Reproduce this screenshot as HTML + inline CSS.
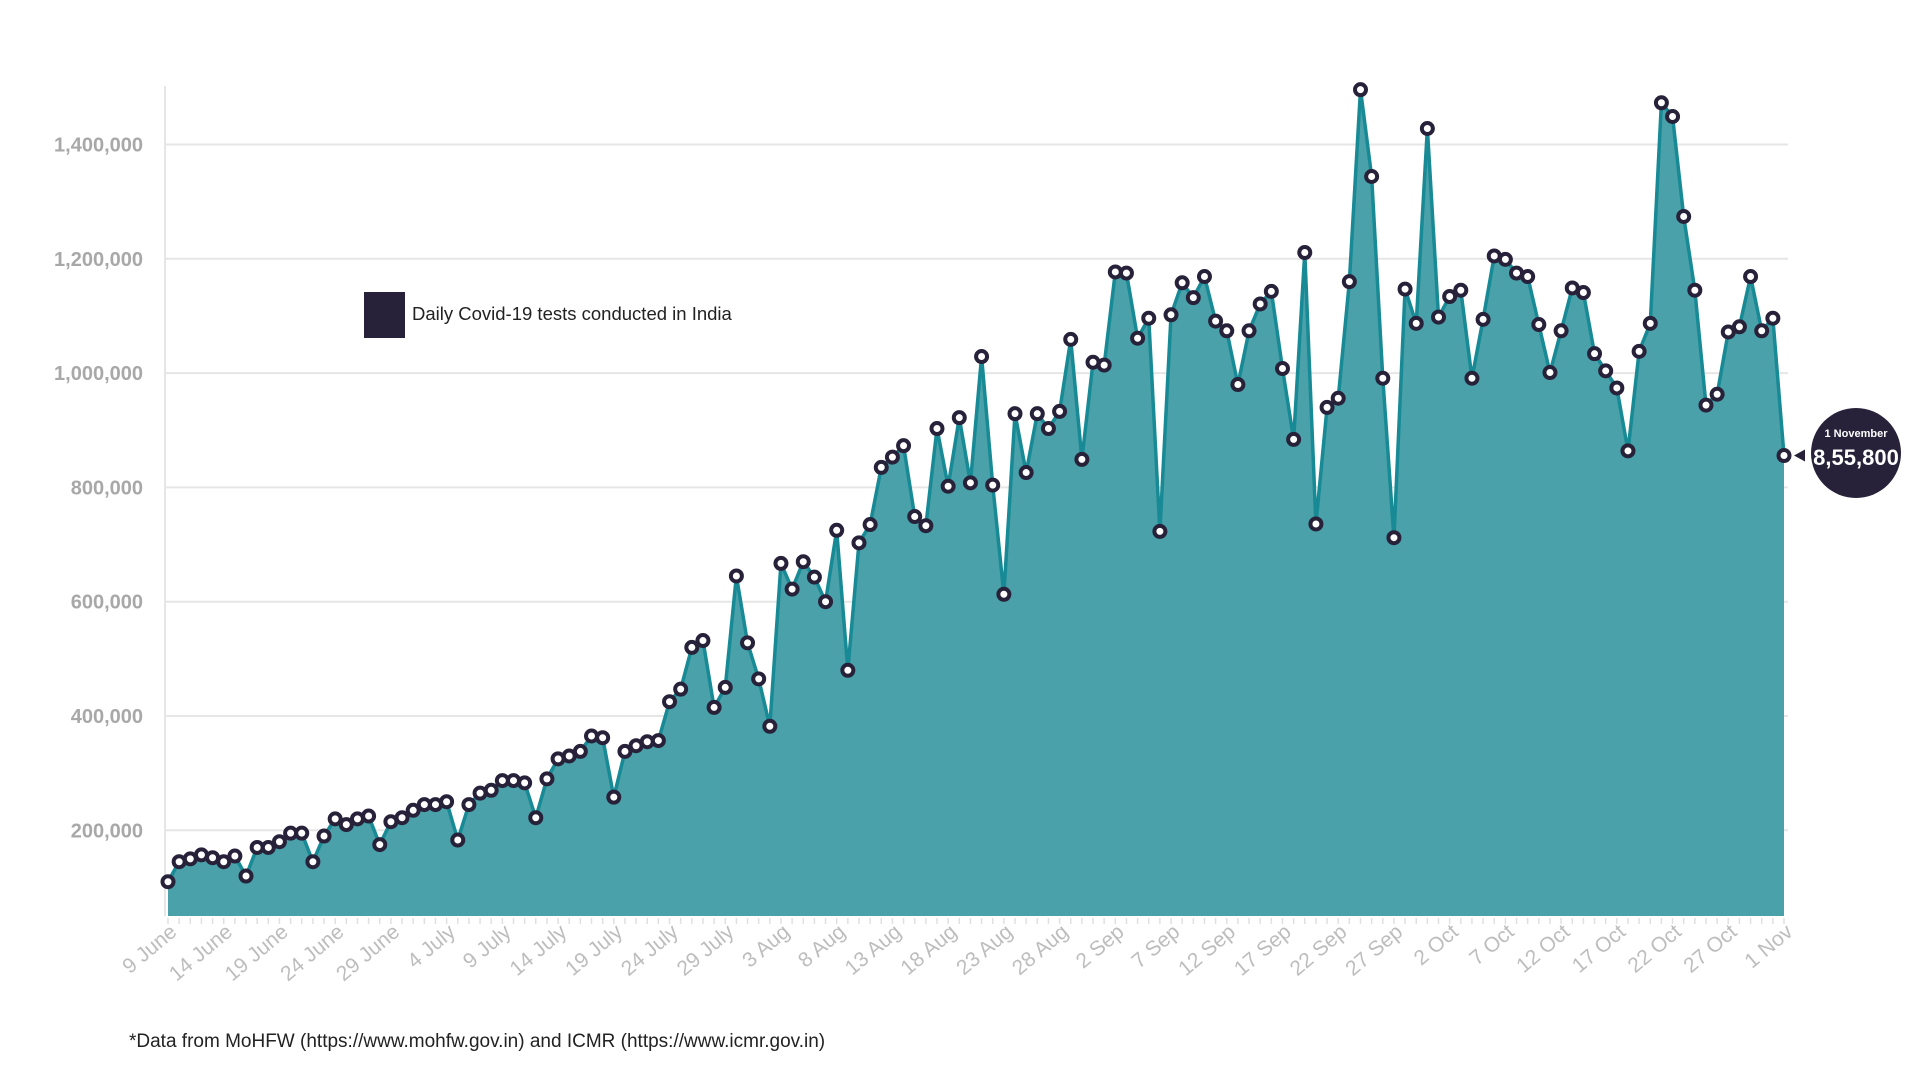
<!DOCTYPE html>
<html><head><meta charset="utf-8"><style>
body{margin:0;background:#fff;width:1920px;height:1080px;overflow:hidden;font-family:"Liberation Sans",sans-serif}
svg{position:absolute;left:0;top:0}
</style></head><body>
<svg id="chart" width="1920" height="1080" xmlns="http://www.w3.org/2000/svg"></svg>
<script>
const values=[110,145,150,157,152,145,155,120,170,170,
180,195,195,145,190,220,210,220,225,175,
215,222,235,245,245,250,183,245,265,270,
287,287,283,222,290,325,330,338,365,362,
258,338,348,355,357,425,447,520,532,415,
450,645,528,465,382,667,622,670,643,600,
725,480,703,735,835,853,873,749,733,903,
802,922,808,1029,804,613,929,826,929,903,
933,1059,849,1019,1014,1177,1175,1061,1096,723,
1102,1158,1132,1169,1091,1074,980,1074,1121,1143,
1008,884,1211,736,940,956,1160,1496,1344,991,
712,1147,1087,1428,1098,1134,1145,991,1094,1205,
1199,1175,1169,1085,1001,1074,1149,1141,1034,1004,
974,864,1038,1087,1473,1449,1274,1145,944,963,
1072,1081,1169,1074,1096,855.8];
const yTicks=[200000,400000,600000,800000,1000000,1200000,1400000];
const xLabels=["9 June","14 June","19 June","24 June","29 June","4 July","9 July","14 July","19 July","24 July","29 July","3 Aug","8 Aug","13 Aug","18 Aug","23 Aug","28 Aug","2 Sep","7 Sep","12 Sep","17 Sep","22 Sep","27 Sep","2 Oct","7 Oct","12 Oct","17 Oct","22 Oct","27 Oct","1 Nov"];
const NS="http://www.w3.org/2000/svg";
const svg=document.getElementById('chart');
const X0=168,X1=1784,BASE=916;
const xs=i=>X0+(X1-X0)*i/(values.length-1);
const ys=v=>144.5+(1400000-v)/200000*114.3;
function mk(t,a,p){const e=document.createElementNS(NS,t);for(const k in a)e.setAttribute(k,a[k]);(p||svg).appendChild(e);return e;}
yTicks.forEach(t=>{
 const l=mk('line',{x1:165,x2:1788,y1:ys(t),y2:ys(t),stroke:'#e6e6e6','stroke-width':2});
 
 
 const tx=mk('text',{x:143,y:ys(t)+7,'text-anchor':'end','font-size':20,fill:'#a8a8a8','font-weight':'bold'});
 tx.textContent=t.toLocaleString('en-US');
 
 
});
const ax=mk('line',{x1:165,x2:165,y1:86,y2:916,stroke:'#e6e6e6','stroke-width':2});


let d=`M${xs(0)},${BASE}`;values.forEach((v,i)=>d+=` L${xs(i)},${ys(v*1000)}`);d+=` L${xs(values.length-1)},${BASE} Z`;
const area=mk('path',{d:d,fill:'#4aa1a9'});


let ld='';values.forEach((v,i)=>ld+=(i?' L':'M')+xs(i)+','+ys(v*1000));
const line=mk('path',{d:ld,fill:'none',stroke:'#178a95','stroke-width':3.5,'stroke-linejoin':'round'});


values.forEach((v,i)=>{const t=mk('line',{x1:xs(i),x2:xs(i),y1:918,y2:924,stroke:'#e0e0e0','stroke-width':1.5});
 
 });
values.forEach((v,i)=>{
 const c=mk('circle',{cx:xs(i),cy:ys(v*1000),r:5.5,fill:'#fff',stroke:'#27223a','stroke-width':4});
 
 
});
xLabels.forEach((s,k)=>{
 const x=xs(k*5)+10,y=934;
 const t=mk('text',{x:x,y:y,'text-anchor':'end','font-size':21,fill:'#bdbdbd',transform:`rotate(-40 ${x} ${y})`});
 t.textContent=s;
 
 
});
const lg=mk('g',{});


mk('rect',{x:364,y:292,width:41,height:46,fill:'#27223a'},lg);
const lt=mk('text',{x:412,y:320,'font-size':18.5,fill:'#222'},lg);lt.textContent='Daily Covid-19 tests conducted in India';
const cg=mk('g',{});


const lx=xs(values.length-1),lyv=ys(values[values.length-1]*1000);
mk('polygon',{points:`${lx+10},${lyv} ${lx+21},${lyv-6} ${lx+21},${lyv+6}`,fill:'#27223a'},cg);
mk('circle',{cx:1856,cy:453,r:45,fill:'#27223a'},cg);
const c1=mk('text',{x:1856,y:437,'text-anchor':'middle','font-size':11,'font-weight':'bold',fill:'#fff'},cg);c1.textContent='1 November';
const c2=mk('text',{x:1856,y:465,'text-anchor':'middle','font-size':22,'font-weight':'bold',fill:'#fff'},cg);c2.textContent='8,55,800';
const fn=mk('text',{x:129,y:1047,'font-size':19,fill:'#222'});
fn.textContent='*Data from MoHFW (https://www.mohfw.gov.in) and ICMR (https://www.icmr.gov.in)';


</script>
</body></html>
